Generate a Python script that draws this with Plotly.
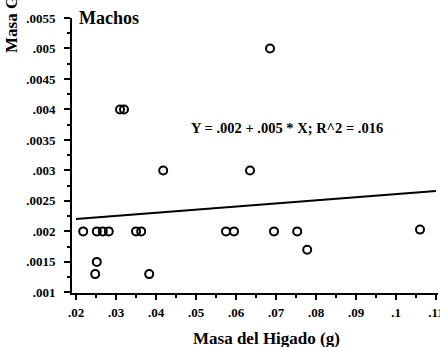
import plotly.graph_objects as go

# Liver mass (g) vs gonad mass (g), males
liver_mass = [0.0218, 0.0252, 0.0267, 0.0282, 0.0350, 0.0363, 0.0252, 0.0248, 0.0383,
              0.0575, 0.0595, 0.0695, 0.0753, 0.0778, 0.1060, 0.0418, 0.0635, 0.0685,
              0.0310, 0.0320]
gonad_mass = [0.0020, 0.0020, 0.0020, 0.0020, 0.0020, 0.0020, 0.0015, 0.0013, 0.0013,
              0.0020, 0.0020, 0.0020, 0.0020, 0.0017, 0.00203, 0.0030, 0.0030, 0.0050,
              0.0040, 0.0040]

# Fitted regression line
intercept = 0.0021
slope = 0.0051
r_squared = 0.016
fit_x = [0.02, 0.11]
fit_y = [intercept + slope * v for v in fit_x]

x_tick_vals = [0.02, 0.03, 0.04, 0.05, 0.06, 0.07, 0.08, 0.09, 0.10, 0.11]
x_tick_text = [".02", ".03", ".04", ".05", ".06", ".07", ".08", ".09", ".1", ".11"]
y_tick_vals = [0.001, 0.0015, 0.002, 0.0025, 0.003, 0.0035, 0.004, 0.0045, 0.005, 0.0055]
y_tick_text = [".001", ".0015", ".002", ".0025", ".003", ".0035", ".004", ".0045", ".005", ".0055"]


def short(v):
    return f"{v:.3f}".lstrip("0")


equation = f"Y = {short(intercept)} + {short(slope)} * X; R^2 = {short(r_squared)}"

serif = "Liberation Serif"
fig = go.Figure()
fig.add_trace(go.Scatter(
    x=fit_x, y=fit_y, mode="lines",
    line=dict(color="black", width=2), showlegend=False, hoverinfo="skip",
))
fig.add_trace(go.Scatter(
    x=liver_mass, y=gonad_mass, mode="markers",
    marker=dict(symbol="circle-open", size=8, color="black", line=dict(width=2)),
    showlegend=False,
))

fig.update_layout(
    width=440, height=347,
    margin=dict(l=72, r=2, t=18, b=54),
    paper_bgcolor="white", plot_bgcolor="white",
    font=dict(family=serif, color="black", size=13, weight="bold"),
    xaxis=dict(
        range=[0.019, 0.1105], showgrid=False, zeroline=False, automargin=False,
        showline=True, linecolor="black", linewidth=2,
        ticks="outside", ticklen=5, tickwidth=2, tickcolor="black",
        tickvals=x_tick_vals, ticktext=x_tick_text, ticklabelstandoff=1,
        ticklabeloverflow="allow",
        tickfont=dict(family=serif, size=13, weight="bold"),
        minor=dict(ticks="outside", ticklen=3, tickwidth=1.5, tickcolor="black",
                   tickvals=[0.025, 0.035, 0.045, 0.055, 0.065, 0.075, 0.085, 0.095, 0.105]),
    ),
    yaxis=dict(
        range=[0.00099, 0.0055], showgrid=False, zeroline=False, automargin=False,
        showline=True, linecolor="black", linewidth=2,
        ticks="outside", ticklen=6, tickwidth=2, tickcolor="black",
        tickvals=y_tick_vals, ticktext=y_tick_text, ticklabelstandoff=6,
        ticklabeloverflow="allow",
        tickfont=dict(family=serif, size=13, weight="bold"),
        minor=dict(ticks="outside", ticklen=3, tickwidth=1.5, tickcolor="black",
                   tickvals=[0.00125, 0.00175, 0.00225, 0.00275, 0.00325, 0.00375,
                             0.00425, 0.00475, 0.00525]),
    ),
)

fig.add_annotation(
    text="Machos", xref="paper", yref="paper", x=0.015, y=1.0,
    xanchor="left", yanchor="middle", showarrow=False,
    font=dict(family=serif, size=18, weight="bold"),
)
fig.add_annotation(
    text=equation, xref="x", yref="y", x=0.0728, y=0.0037,
    xanchor="center", yanchor="middle", showarrow=False,
    font=dict(family=serif, size=14.5, weight="bold"),
)
fig.add_annotation(
    text="Masa del Higado (g)", xref="paper", yref="paper",
    x=(266 - 72) / 366, y=-(338 - 293) / 275,
    xanchor="center", yanchor="middle", showarrow=False,
    font=dict(family=serif, size=17, weight="bold"),
)
fig.add_annotation(
    text="Masa Gonadal (g)", textangle=-90, xref="paper", yref="paper",
    x=-(72 - 12) / 366, y=(293 - 55) / 275,
    xanchor="center", yanchor="bottom", showarrow=False,
    font=dict(family=serif, size=17, weight="bold"),
)

fig.write_html("out.html")
